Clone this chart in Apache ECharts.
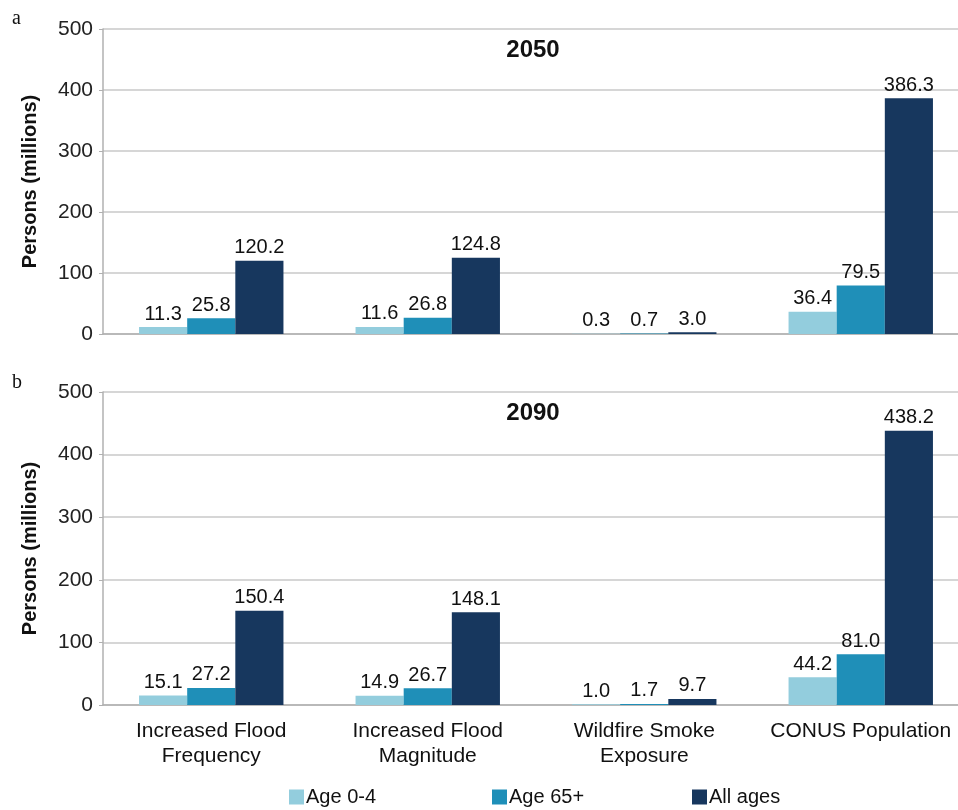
<!DOCTYPE html>
<html>
<head>
<meta charset="utf-8">
<script src="https://cdn.jsdelivr.net/npm/echarts@6/dist/echarts.min.js"></script>
<style>html,body{margin:0;padding:0;background:#fff;}#c{width:958px;height:810px;}</style>
</head>
<body>
<div id="c"></div>
<script>
const categories = ['Increased Flood\nFrequency', 'Increased Flood\nMagnitude', 'Wildfire Smoke\nExposure', 'CONUS Population'];
const seriesNames = ['Age 0-4', 'Age 65+', 'All ages'];
const titles = ['2050', '2090'];
const panelLabels = ['a', 'b'];
const data2050_age04 = [11.3, 11.6, 0.3, 36.4];
const data2050_age65 = [25.8, 26.8, 0.7, 79.5];
const data2050_all = [120.2, 124.8, 3.0, 386.3];
const data2090_age04 = [15.1, 14.9, 1.0, 44.2];
const data2090_age65 = [27.2, 26.7, 1.7, 81.0];
const data2090_all = [150.4, 148.1, 9.7, 438.2];
const yTicks = [0, 100, 200, 300, 400, 500];

const colors = ['#93cddd', '#1f8fb8', '#17375e'];
const font = 'Liberation Sans, Arial, sans-serif';
const panels = [
  [data2050_age04, data2050_age65, data2050_all],
  [data2090_age04, data2090_age65, data2090_all]
];
const grids = [
  {left: 103, width: 866, top: 29, height: 305, outerBoundsMode: 'none', containLabel: false},
  {left: 103, width: 866, top: 392, height: 313, outerBoundsMode: 'none', containLabel: false}
];
const legendLefts = [289, 492, 692];

const chart = echarts.init(document.getElementById('c'), null, {renderer: 'canvas'});
const option = {
  animation: false,
  backgroundColor: '#fff',
  textStyle: {fontFamily: font},
  title: titles.map((t, i) => ({
    text: t,
    left: 533, textAlign: 'center', padding: 0,
    top: i === 0 ? 38 : 401,
    textStyle: {fontSize: 24, fontWeight: 'bold', color: '#111', fontFamily: font}
  })),
  graphic: panelLabels.map((l, i) => ({
    type: 'text', left: 12, top: i === 0 ? 9 : 373,
    style: {text: l, font: '20px "Liberation Serif", "DejaVu Serif", serif', fill: '#111'}
  })),
  legend: seriesNames.map((n, i) => ({
    data: [n],
    top: 787, left: legendLefts[i], padding: 0,
    itemWidth: 15, itemHeight: 15,
    icon: 'rect',
    textStyle: {fontSize: 20, lineHeight: 20, color: '#111', fontFamily: font, padding: [0, 0, 0, -3]}
  })),
  grid: grids,
  xAxis: grids.map((g, i) => ({
    type: 'category', gridIndex: i, data: categories,
    axisLine: {lineStyle: {color: '#b0b0b0', width: 1.5}},
    axisTick: {show: false},
    axisLabel: {show: i === 1, fontSize: 21, color: '#111', lineHeight: 25, margin: 14, fontFamily: font, interval: 0}
  })),
  yAxis: grids.map((g, i) => ({
    type: 'value', gridIndex: i, min: yTicks[0], max: yTicks[yTicks.length - 1], interval: 100,
    name: 'Persons (millions)', nameLocation: 'middle', nameGap: 63, nameRotate: 90,
    nameTextStyle: {fontSize: 20, fontWeight: 'bold', color: '#111', fontFamily: font},
    axisLine: {show: true, lineStyle: {color: '#b0b0b0', width: 1.5}},
    axisTick: {show: true, length: 4, lineStyle: {color: '#b0b0b0'}},
    axisLabel: {fontSize: 21, color: '#222', margin: 10, fontFamily: font},
    splitLine: {lineStyle: {color: '#c8c8c8', width: 1.5}}
  })),
  series: []
};
panels.forEach((arrs, p) => {
  arrs.forEach((vals, s) => {
    option.series.push({
      type: 'bar', name: seriesNames[s], xAxisIndex: p, yAxisIndex: p,
      data: vals,
      barGap: '0%', barCategoryGap: '33.3%',
      itemStyle: {color: colors[s]},
      label: {show: true, position: 'top', distance: 3, fontSize: 20, color: '#111', fontFamily: font,
        formatter: (d) => d.value.toFixed(1)}
    });
  });
});
chart.setOption(option);
</script>
</body>
</html>
